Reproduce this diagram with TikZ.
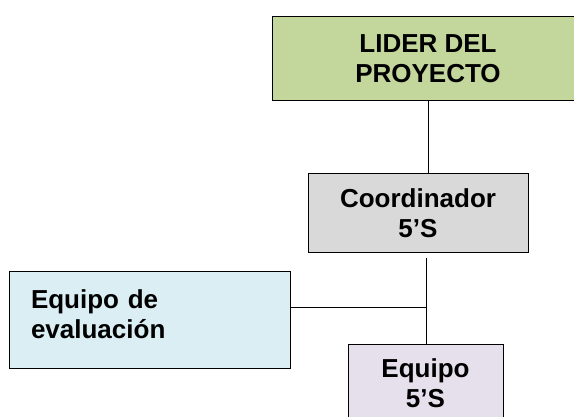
\documentclass[tikz,border=0pt]{standalone}
\usepackage{fontspec}
\setmainfont{Liberation Sans}
\usetikzlibrary{positioning}
\definecolor{verde}{HTML}{C3D69B}
\definecolor{gris}{HTML}{D9D9D9}
\definecolor{celeste}{HTML}{DAEEF3}
\definecolor{lila}{HTML}{E5E0EC}
\begin{document}
\begin{tikzpicture}[x=1pt, y=-1pt,
		caja/.style={draw, line width=1pt, inner sep=0pt, align=center,
			font=\bfseries\fontsize{26}{30}\selectfont},
		linea/.style={draw, line width=0.9pt}]
	\useasboundingbox (0,0) rectangle (574,417);
	\clip (0,0) rectangle (574,417);
	\node[caja, fill=verde, minimum width=312pt, minimum height=84pt] (lider) at (428,59) {LIDER DEL\\PROYECTO};
	\node[caja, fill=gris, minimum width=220pt, minimum height=79pt] (coord) at (418,213.5) {Coordinador\\5'S};
	\node[caja, fill=celeste, align=left, text width=237pt, inner xsep=22pt, text depth=43pt, minimum height=97pt] (evalua) at (149.5,320.5) {Equipo de\\evaluación};
	\node[caja, fill=lila, minimum width=155pt, minimum height=77pt] (equipo) at (425.5,383.5) {Equipo\\5'S};
	\coordinate (nudo) at (426,307);
	\draw[linea] (lider.south) -- (lider.south |- coord.north);
	\draw[linea] ([yshift=-5pt]nudo |- coord.south) -- (nudo |- equipo.north);
	\draw[linea] (nudo -| evalua.east) -- (nudo);
\end{tikzpicture}
\end{document}
